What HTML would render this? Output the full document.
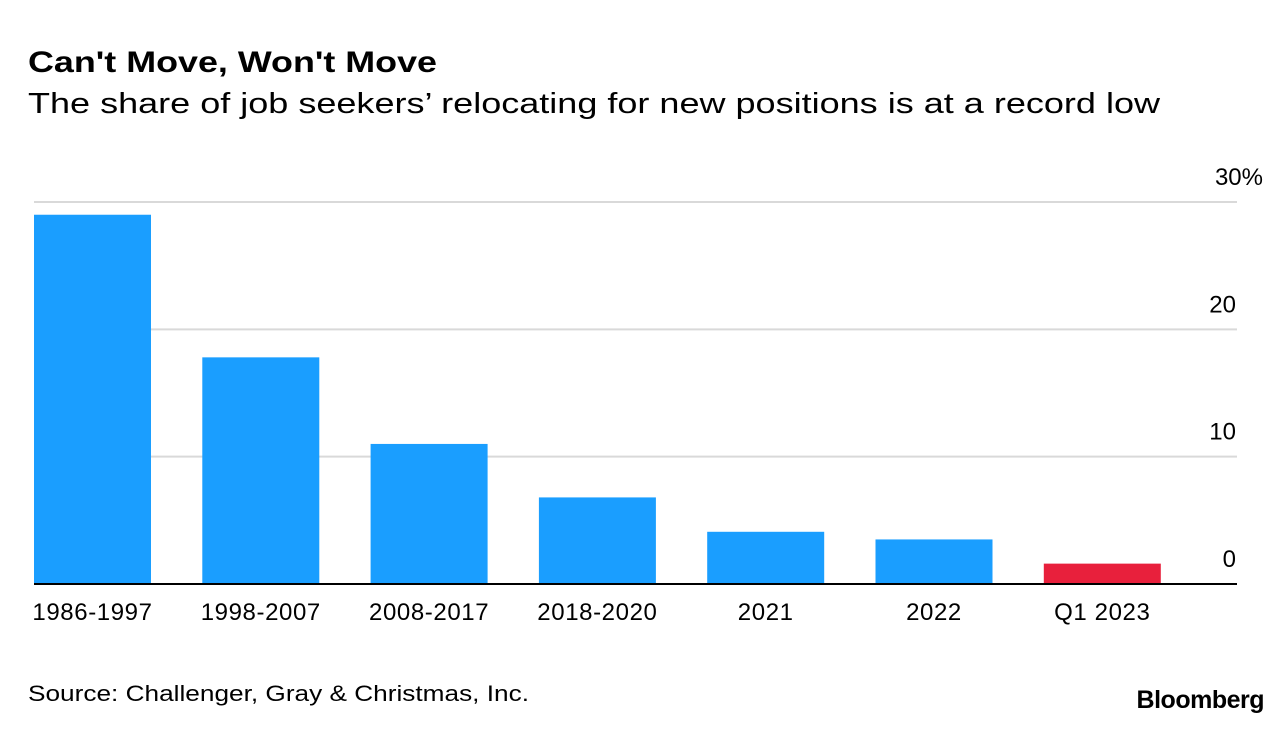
<!DOCTYPE html>
<html><head><meta charset="utf-8"><style>
body{margin:0;background:#fff;font-family:"Liberation Sans",sans-serif;}
svg{display:block}
</style></head><body>
<svg width="1288" height="732" viewBox="0 0 1288 732">
<text x="28" y="72" font-size="30" font-weight="bold" fill="#000" textLength="409" lengthAdjust="spacingAndGlyphs">Can't Move, Won't Move</text>
<text x="28" y="113" font-size="29" fill="#000" textLength="1132" lengthAdjust="spacingAndGlyphs">The share of job seekers’ relocating for new positions is at a record low</text>
<g id="grid"></g>
<g id="bars"></g>
<g id="xlabels"></g>
<text x="28" y="701" font-size="22" fill="#000" textLength="501" lengthAdjust="spacingAndGlyphs">Source: Challenger, Gray &amp; Christmas, Inc.</text>
<text x="1264" y="708" font-size="25" font-weight="bold" text-anchor="end" fill="#000" letter-spacing="-0.5">Bloomberg</text>
</svg>
<script>
const categories=["1986-1997","1998-2007","2008-2017","2018-2020","2021","2022","Q1 2023"];
const values=[29.0,17.8,11.0,6.8,4.1,3.5,1.6];
const highlight=[false,false,false,false,false,false,true];
const ticks=[0,10,20,30];
const tickLabels=["0","10","20","30%"];
const NS="http://www.w3.org/2000/svg";
const Y0=584,Y_MAX=30,PLOT_TOP=202,PLOT_LEFT=34,PLOT_RIGHT=1237,STEP=168.3,BW=117;
const yScale=v=>Y0-(v/Y_MAX)*(Y0-PLOT_TOP);
const xScale=i=>PLOT_LEFT+i*STEP;
const grid=document.getElementById('grid'),bars=document.getElementById('bars'),xl=document.getElementById('xlabels');
function mk(t,a){const e=document.createElementNS(NS,t);for(const k in a)e.setAttribute(k,a[k]);return e;}
ticks.forEach((t,i)=>{
 if(t!==0){const l=mk('line',{x1:PLOT_LEFT,x2:PLOT_RIGHT,y1:yScale(t),y2:yScale(t),stroke:'#d9d9d9','stroke-width':2});
 
 
 grid.appendChild(l);}
 const hasPct=tickLabels[i].indexOf('%')>=0;
 const tx=mk('text',{x:hasPct?1263:1236,y:yScale(t)-17,'font-size':24,'text-anchor':'end',fill:'#000'});
 tx.textContent=tickLabels[i];
 
 
 grid.appendChild(tx);
});
categories.forEach((c,i)=>{
 const r=mk('rect',{x:xScale(i),y:yScale(values[i]),width:BW,height:Y0-yScale(values[i]),fill:highlight[i]?'#e8203c':'#1a9eff'});
 
 
 bars.appendChild(r);
 const t=mk('text',{x:xScale(i)+BW/2,y:620,'font-size':24,'text-anchor':'middle',fill:'#000','letter-spacing':'0.6'});
 t.textContent=c;
 
 
 xl.appendChild(t);
});
const base=mk('line',{x1:PLOT_LEFT,x2:PLOT_RIGHT,y1:Y0,y2:Y0,stroke:'#000','stroke-width':2});


bars.appendChild(base);
</script>
</body></html>
